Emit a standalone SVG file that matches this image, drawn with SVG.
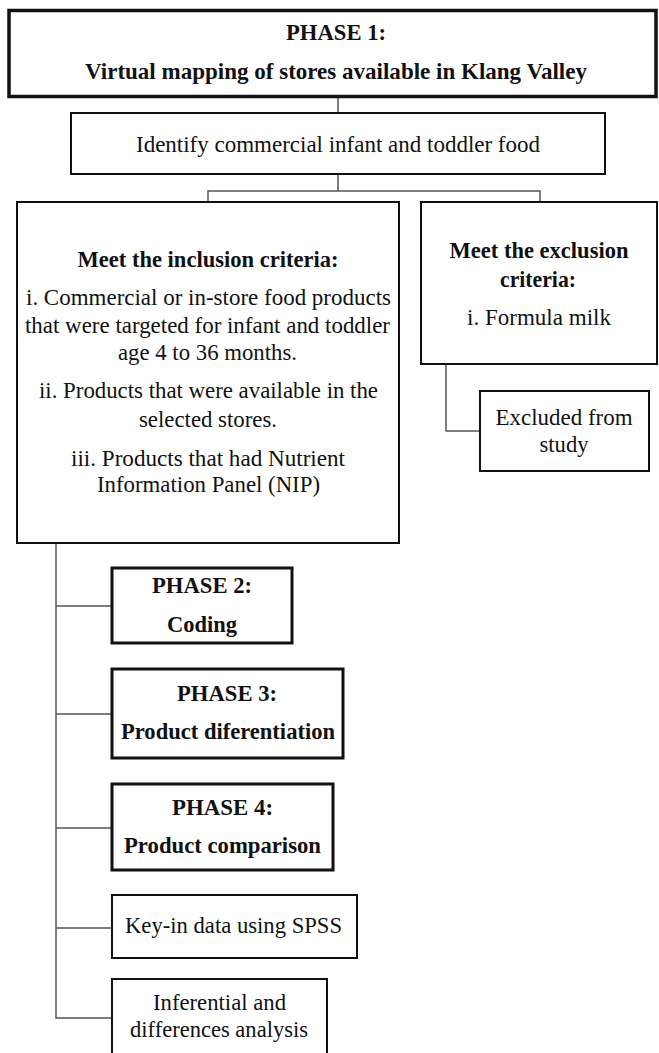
<svg xmlns="http://www.w3.org/2000/svg" width="659" height="1053" viewBox="0 0 659 1053">
<style>
.box{fill:#fff;stroke:#111;stroke-width:2}
.thick{fill:#fff;stroke:#111;stroke-width:3.5}
.med{fill:#fff;stroke:#111;stroke-width:3}
.conn{fill:none;stroke:#555;stroke-width:1.5}
text{font-family:"Liberation Serif","Times New Roman",serif;font-size:24px;fill:#111;text-anchor:middle}
.b{font-weight:bold;font-size:23px}
</style>
<rect width="659" height="1053" fill="#fff"/>
<g id="connectors">
<path class="conn" d="M338 97V113"/>
<path class="conn" d="M338 174V191M208 202V191H540V202"/>
<path class="conn" d="M446 364V431H480"/>
<path class="conn" d="M56 543V1018H112M56 606H112M56 714H112M56 828H112M56 928H112"/>
</g>
<g id="phase1">
<rect class="thick" x="9" y="10.5" width="647" height="86"/>
<text class="b" x="336" y="40" textLength="100" lengthAdjust="spacingAndGlyphs">PHASE 1:</text>
<text class="b" x="336" y="79" textLength="502" lengthAdjust="spacingAndGlyphs">Virtual mapping of stores available in Klang Valley</text>
</g>
<g id="identify">
<rect class="box" x="71" y="113" width="534" height="61"/>
<text x="338" y="152" textLength="404" lengthAdjust="spacingAndGlyphs">Identify commercial infant and toddler food</text>
</g>
<g id="inclusion">
<rect class="box" x="17" y="202" width="382" height="341"/>
<text class="b" x="208" y="267" textLength="261" lengthAdjust="spacingAndGlyphs">Meet the inclusion  criteria:</text>
<text x="208.5" y="305" textLength="365" lengthAdjust="spacingAndGlyphs">i. Commercial or in-store food products</text>
<text x="207.5" y="333" textLength="365" lengthAdjust="spacingAndGlyphs">that were targeted for infant and toddler</text>
<text x="207.5" y="360" textLength="179" lengthAdjust="spacingAndGlyphs">age 4 to 36 months.</text>
<text x="208.5" y="398" textLength="339" lengthAdjust="spacingAndGlyphs">ii. Products that were available in the</text>
<text x="208" y="427" textLength="138" lengthAdjust="spacingAndGlyphs">selected stores.</text>
<text x="208" y="466" textLength="274" lengthAdjust="spacingAndGlyphs">iii. Products that had Nutrient</text>
<text x="208.5" y="492" textLength="223" lengthAdjust="spacingAndGlyphs">Information Panel (NIP)</text>
</g>
<g id="exclusion">
<rect class="box" x="421" y="202" width="236" height="162"/>
<text class="b" x="539" y="258" textLength="179" lengthAdjust="spacingAndGlyphs">Meet the exclusion</text>
<text class="b" x="538" y="287" textLength="76" lengthAdjust="spacingAndGlyphs">criteria:</text>
<text x="539" y="325" textLength="144" lengthAdjust="spacingAndGlyphs">i. Formula milk</text>
</g>
<g id="excluded">
<rect class="box" x="480" y="391" width="169" height="80"/>
<text x="564" y="425" textLength="137" lengthAdjust="spacingAndGlyphs">Excluded from</text>
<text x="564" y="452" textLength="49" lengthAdjust="spacingAndGlyphs">study</text>
</g>
<g id="phase2">
<rect class="med" x="112" y="568" width="180" height="75"/>
<text class="b" x="202" y="593" textLength="100" lengthAdjust="spacingAndGlyphs">PHASE 2:</text>
<text class="b" x="202" y="632" textLength="70" lengthAdjust="spacingAndGlyphs">Coding</text>
</g>
<g id="phase3">
<rect class="med" x="112" y="669" width="231" height="89"/>
<text class="b" x="227" y="701" textLength="100" lengthAdjust="spacingAndGlyphs">PHASE 3:</text>
<text class="b" x="228" y="739" textLength="214" lengthAdjust="spacingAndGlyphs">Product diferentiation</text>
</g>
<g id="phase4">
<rect class="med" x="112" y="784" width="221" height="86"/>
<text class="b" x="222.5" y="815" textLength="101" lengthAdjust="spacingAndGlyphs">PHASE 4:</text>
<text class="b" x="222.5" y="853" textLength="197" lengthAdjust="spacingAndGlyphs">Product comparison</text>
</g>
<g id="keyin">
<rect class="box" x="112" y="895" width="245" height="63"/>
<text x="233.5" y="933" textLength="217" lengthAdjust="spacingAndGlyphs">Key-in data using SPSS</text>
</g>
<g id="inferential">
<rect class="box" x="112" y="979" width="215" height="90"/>
<text x="219.5" y="1010" textLength="133" lengthAdjust="spacingAndGlyphs">Inferential and</text>
<text x="219" y="1037" textLength="178" lengthAdjust="spacingAndGlyphs">differences analysis</text>
</g>
</svg>
